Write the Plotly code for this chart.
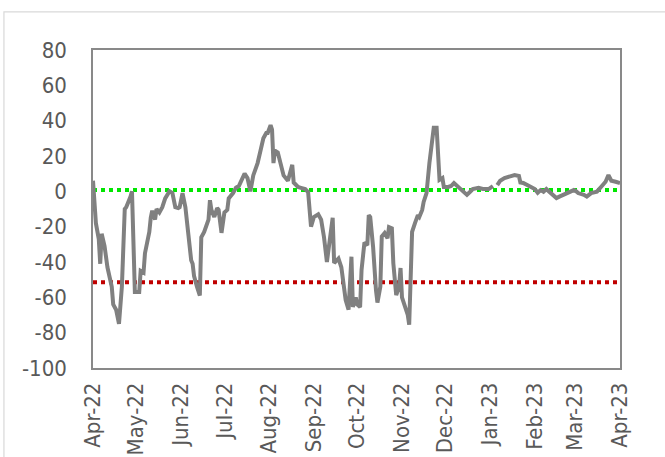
import plotly.graph_objects as go

# Series
dates = [
    "2022-04-01", "2022-04-03", "2022-04-05", "2022-04-06", "2022-04-07", "2022-04-09",
    "2022-04-11", "2022-04-14", "2022-04-15", "2022-04-17", "2022-04-19", "2022-04-21",
    "2022-04-23", "2022-04-24", "2022-04-27", "2022-04-28", "2022-04-30", "2022-05-03",
    "2022-05-04", "2022-05-06", "2022-05-07", "2022-05-10", "2022-05-11", "2022-05-12",
    "2022-05-14", "2022-05-15", "2022-05-17", "2022-05-19", "2022-05-21", "2022-05-24",
    "2022-05-26", "2022-05-28", "2022-05-30", "2022-05-31", "2022-06-02", "2022-06-04",
    "2022-06-06", "2022-06-08", "2022-06-09", "2022-06-10", "2022-06-12", "2022-06-14",
    "2022-06-15", "2022-06-17", "2022-06-20", "2022-06-21", "2022-06-22", "2022-06-24",
    "2022-06-26", "2022-06-27", "2022-06-29", "2022-07-01", "2022-07-03", "2022-07-04",
    "2022-07-07", "2022-07-09", "2022-07-11", "2022-07-12", "2022-07-15", "2022-07-17",
    "2022-07-19", "2022-07-21", "2022-07-23", "2022-07-24", "2022-07-26", "2022-07-28",
    "2022-07-30", "2022-07-31", "2022-08-02", "2022-08-03", "2022-08-04", "2022-08-05",
    "2022-08-07", "2022-08-09", "2022-08-11", "2022-08-14", "2022-08-17", "2022-08-18",
    "2022-08-21", "2022-08-23", "2022-08-26", "2022-08-28", "2022-08-30", "2022-09-01",
    "2022-09-04", "2022-09-06", "2022-09-08", "2022-09-10", "2022-09-12", "2022-09-14",
    "2022-09-15", "2022-09-18", "2022-09-20", "2022-09-22", "2022-09-23", "2022-09-25",
    "2022-09-27", "2022-09-28", "2022-09-30", "2022-10-01", "2022-10-03", "2022-10-04",
    "2022-10-06", "2022-10-08", "2022-10-09", "2022-10-10", "2022-10-12", "2022-10-14",
    "2022-10-15", "2022-10-17", "2022-10-18", "2022-10-20", "2022-10-22", "2022-10-23",
    "2022-10-25", "2022-10-26", "2022-10-27", "2022-10-28", "2022-10-30", "2022-10-31",
    "2022-11-01", "2022-11-03", "2022-11-05", "2022-11-06", "2022-11-07", "2022-11-08",
    "2022-11-10", "2022-11-12", "2022-11-13", "2022-11-15", "2022-11-16", "2022-11-18",
    "2022-11-20", "2022-11-22", "2022-11-23", "2022-11-25", "2022-11-26", "2022-11-27",
    "2022-11-29", "2022-11-30", "2022-12-03", "2022-12-05", "2022-12-07", "2022-12-10",
    "2022-12-13", "2022-12-16", "2022-12-18", "2022-12-20", "2022-12-24", "2022-12-27",
    "2022-12-31", "2023-01-03", "2023-01-04", "2023-01-06", "2023-01-08", "2023-01-11",
    "2023-01-15", "2023-01-18", "2023-01-21", "2023-01-22", "2023-01-24", "2023-01-27",
    "2023-01-30", "2023-02-01", "2023-02-03", "2023-02-05", "2023-02-07", "2023-02-09",
    "2023-02-11", "2023-02-14", "2023-02-16", "2023-02-18", "2023-02-22", "2023-02-25",
    "2023-02-28", "2023-03-02", "2023-03-03", "2023-03-07", "2023-03-09", "2023-03-12",
    "2023-03-16", "2023-03-19", "2023-03-22", "2023-03-24", "2023-03-26", "2023-03-29",
    "2023-03-31", "2023-04-01",
]
values = [
    6, -18, -27, -41, -24, -31,
    -43, -54, -64, -67, -75, -54,
    -10, -9, -3, 0, -57, -57,
    -45, -46, -35, -23, -15, -11,
    -16, -10, -12, -9, -4, 0,
    -1, -9, -9.5, -9, -1, -9,
    -24, -39, -41, -48, -54, -59,
    -26, -23, -16, -5, -10.5, -14.5,
    -9.5, -10.5, -23.5, -12, -10.5, -4,
    -1, 2, 3, 5, 10, 7.5,
    0, 9, 13, 16, 23, 30,
    33, 33, 37.5, 35, 16, 23,
    22, 16, 9, 6, 15, 5,
    2.5, 2, 1.3, -0.4, -20, -14.5,
    -13, -16, -26, -40, -26, -15,
    -40.6, -38, -43, -54, -61.5, -67,
    -37, -65.5, -60, -64, -65.5, -44.5,
    -29, -30.5, -13.5, -14.5, -31.5, -56,
    -63, -54, -25.6, -23.6, -26.5, -20.3,
    -21, -40.6, -52, -58.7, -54, -43.4,
    -60, -65.5, -70, -75.5, -50, -23,
    -18, -13.5, -14.5, -10.5, -6, -1,
    16, 27, 36, 36, 19, 6.5,
    7.5, 2.5, 2.5, 3, 4.7, 2.4,
    0.7, -2, -0.4, 1.3, 2, 1.3,
    1.3, 3, None, 3.5, 6, 7.5,
    8.7, 9.2, 8.7, 5, 4.7, 3.5,
    2.6, 1.3, -0.8, 0.7, -0.2, 1.3,
    -0.2, -2, -3.8, -3, -1.6, -0.8,
    0.7, -0.2, -1, -2, -3, -1,
    -0.2, 2.6, 5.4, 9.2, 6, 5.4,
    5, 4.7,
]

# Threshold lines
threshold_dates = ["2022-04-01", "2023-04-01"]
upper_level = [0.7, 0.7]
lower_level = [-51.5, -51.5]

# Axis ticks
x_tickvals = [
    "2022-04-01", "2022-05-01", "2022-06-01", "2022-07-01", "2022-08-01", "2022-09-01",
    "2022-10-01", "2022-11-01", "2022-12-01", "2023-01-01", "2023-02-01", "2023-03-01",
    "2023-04-01",
]
x_ticktext = [
    "Apr-22", "May-22", "Jun-22", "Jul-22", "Aug-22", "Sep-22", "Oct-22", "Nov-22",
    "Dec-22", "Jan-23", "Feb-23", "Mar-23", "Apr-23",
]
y_tickvals = [-100, -80, -60, -40, -20, 0, 20, 40, 60, 80]
y_ticktext = ["-100", "-80", "-60", "-40", "-20", "0", "20", "40", "60", "80"]

fig = go.Figure()
fig.add_trace(go.Scatter(
    x=threshold_dates, y=upper_level, mode="lines",
    line=dict(color="#00E600", width=4, dash="4px,4px"), hoverinfo="skip",
))
fig.add_trace(go.Scatter(
    x=threshold_dates, y=lower_level, mode="lines",
    line=dict(color="#C00000", width=4, dash="4px,4px"), hoverinfo="skip",
))
fig.add_trace(go.Scatter(
    x=dates, y=values, mode="lines", connectgaps=False,
    line=dict(color="#808080", width=4),
))

fig.update_layout(
    width=665, height=457,
    margin=dict(l=93, r=45, t=50, b=89),
    paper_bgcolor="white", plot_bgcolor="white",
    showlegend=False,
    font=dict(family="DejaVu Sans Condensed", size=22, color="#595959"),
    shapes=[dict(
        type="rect", xref="paper", yref="paper",
        x0=-0.169, x1=1.2, y0=-0.4, y1=1.12,
        line=dict(color="#D9D9D9", width=1.2), layer="below",
    )],
)
fig.update_xaxes(
    type="date", range=["2022-04-01", "2023-04-01"],
    tickvals=x_tickvals, ticktext=x_ticktext, tickangle=-90,
    showgrid=False, zeroline=False, automargin=False,
    showline=True, linecolor="#898989", linewidth=1.5, mirror=True,
    ticks="", ticklabelstandoff=4,
)
fig.update_yaxes(
    range=[-100, 80], tickvals=y_tickvals, ticktext=y_ticktext,
    showgrid=False, zeroline=False, automargin=False,
    showline=True, linecolor="#898989", linewidth=1.5, mirror=True,
    ticks="", ticklabelstandoff=20,
)

fig.write_html(
    "out.html",
    config={"displayModeBar": False},
    post_script="document.body.style.margin='0px';document.body.style.overflow='hidden';",
)
